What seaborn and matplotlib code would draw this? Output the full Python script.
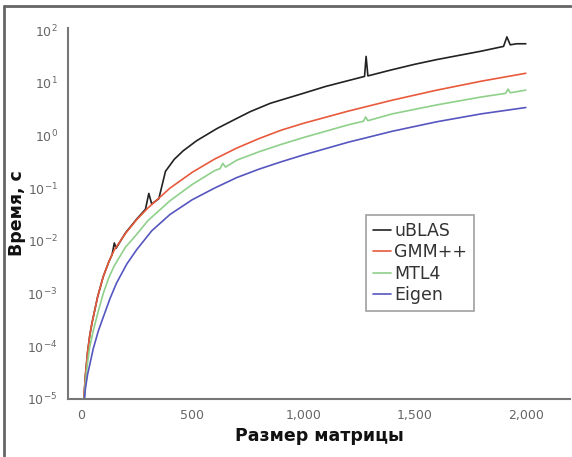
import numpy as np
import pandas as pd
import seaborn as sns
import matplotlib.pyplot as plt
from matplotlib.lines import Line2D
from matplotlib.ticker import FuncFormatter, LogLocator, MultipleLocator

# matrix sizes and log10(time, s)
ublas_n = [10, 15, 20, 30, 40, 50, 75, 100, 125, 140, 150, 158, 200, 250, 290, 305,
           318, 350, 380, 420, 460, 520, 611, 685, 760, 851, 1000, 1100, 1256, 1275,
           1282, 1290, 1392, 1500, 1600, 1700, 1800, 1900, 1915, 1930, 1960, 2000]
ublas_log = [-5.3, -4.87, -4.55, -4.1, -3.78, -3.55, -3.06, -2.68, -2.4, -2.26, -2.04,
             -2.14, -1.85, -1.59, -1.4, -1.1, -1.3, -1.2, -0.68, -0.45, -0.29, -0.1,
             0.13, 0.29, 0.45, 0.61, 0.8, 0.93, 1.1, 1.12, 1.5, 1.13, 1.24, 1.35,
             1.44, 1.52, 1.6, 1.69, 1.87, 1.72, 1.74, 1.74]

gmm_n = [10, 15, 20, 30, 40, 50, 75, 100, 125, 150, 200, 250, 300, 400, 500, 600,
         700, 800, 900, 1000, 1200, 1400, 1600, 1800, 2000]
gmm_log = [-5.3, -4.87, -4.55, -4.1, -3.78, -3.55, -3.06, -2.68, -2.4, -2.17, -1.86,
           -1.6, -1.38, -1.0, -0.7, -0.45, -0.24, -0.06, 0.1, 0.23, 0.46, 0.67, 0.86,
           1.03, 1.18]

mtl_n = [10, 15, 20, 30, 40, 55, 75, 100, 125, 150, 200, 250, 300, 400, 500, 600,
         625, 638, 650, 700, 800, 900, 1000, 1200, 1270, 1280, 1290, 1400, 1600,
         1800, 1910, 1920, 1930, 2000]
mtl_log = [-5.5, -5.0, -4.7, -4.3, -4.0, -3.71, -3.38, -3.0, -2.7, -2.47, -2.12, -1.88,
           -1.62, -1.24, -0.93, -0.67, -0.63, -0.53, -0.6, -0.47, -0.31, -0.17, -0.04,
           0.2, 0.27, 0.35, 0.28, 0.41, 0.58, 0.73, 0.8, 0.88, 0.81, 0.86]

eigen_n = [10, 15, 20, 30, 40, 55, 78, 100, 131, 160, 206, 250, 318, 400, 500, 600,
           700, 800, 900, 1000, 1200, 1400, 1600, 1800, 2000]
eigen_log = [-5.5, -5.05, -4.8, -4.53, -4.34, -4.05, -3.71, -3.45, -3.09, -2.8, -2.44,
             -2.17, -1.81, -1.5, -1.22, -1.0, -0.8, -0.64, -0.5, -0.37, -0.13, 0.08,
             0.26, 0.41, 0.53]

names = ["uBLAS", "GMM++", "MTL4", "Eigen"]
colors = ["#222222", "#e85a3c", "#8fd08a", "#5656c0"]
y_ticks = [1e-5, 1e-4, 1e-3, 1e-2, 1e-1, 1e0, 1e1, 1e2]

frames = []
for name, n, lg in zip(names, [ublas_n, gmm_n, mtl_n, eigen_n],
                       [ublas_log, gmm_log, mtl_log, eigen_log]):
    frames.append(pd.DataFrame({"n": n, "t": 10.0 ** np.array(lg), "lib": name}))
df = pd.concat(frames, ignore_index=True)

sns.set_style("white")
plt.rcParams["font.family"] = ["DejaVu Sans"]

fig = plt.figure(figsize=(5.72, 4.57), dpi=100)
ax = fig.add_axes([0.119, 0.127, 0.878, 0.812])

sns.lineplot(data=df, x="n", y="t", hue="lib", hue_order=names,
             palette=colors, linewidth=1.2, ax=ax, sort=False, estimator=None)

ax.set_yscale("log")
ax.set_ylim(1e-5, 1.1e2)
ax.set_xlim(-58, 2200)

ax.xaxis.set_major_locator(MultipleLocator(500))
ax.xaxis.set_minor_locator(MultipleLocator(100))
ax.xaxis.set_major_formatter(FuncFormatter(lambda v, p: f"{int(v):,}"))
ax.set_yticks(y_ticks)
minor = [m * t for t in y_ticks[:-1] for m in range(2, 10)]
ax.set_yticks(minor, minor=True)
ax.set_yticklabels([], minor=True)

for side in ["top", "right"]:
    ax.spines[side].set_visible(False)
for side in ["left", "bottom"]:
    ax.spines[side].set_color("#777777")
    ax.spines[side].set_linewidth(1.5)

ax.tick_params(axis="both", which="major", length=4, width=1, color="#777777",
               labelcolor="#666666", labelsize=9, direction="out")
ax.tick_params(axis="both", which="minor", length=2.5, width=0.8, color="#888888",
               direction="out")

ax.set_xlabel("Размер матрицы", fontsize=12.5, fontweight="bold", color="#111111", labelpad=3)
ax.set_ylabel("Время, с", fontsize=12.5, fontweight="bold", color="#111111", labelpad=1)

leg = ax.legend(title=None, loc="upper left", bbox_to_anchor=(0.594, 0.496),
                fontsize=12.5, frameon=True, handlelength=1.0, handletextpad=0.2,
                borderpad=0.4, labelspacing=0.2, borderaxespad=0, fancybox=False)
leg.get_frame().set_edgecolor("#888888")
leg.get_frame().set_linewidth(1.2)
for t in leg.get_texts():
    t.set_color("#333333")

# outer frame (top and left edges visible in the reference)
fig.add_artist(Line2D([4 / 572, 0.999], [1 - 6 / 457, 1 - 6 / 457],
                      transform=fig.transFigure, color="#666666", linewidth=2))
fig.add_artist(Line2D([4 / 572, 4 / 572], [0.002, 1 - 6 / 457],
                      transform=fig.transFigure, color="#666666", linewidth=2))

fig.savefig("out.png", dpi=100)
